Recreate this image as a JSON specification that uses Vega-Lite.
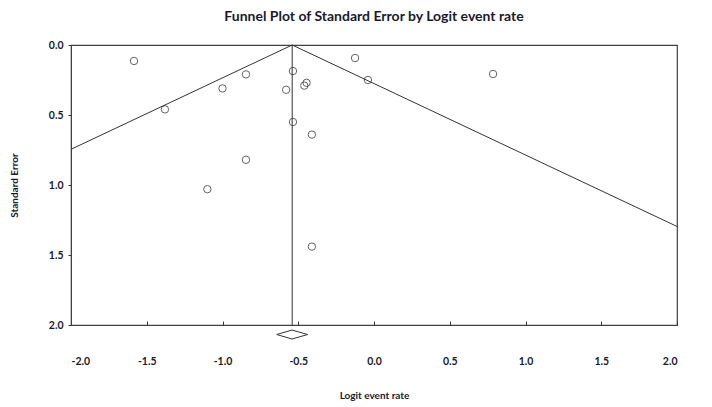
{
  "$schema": "https://vega.github.io/schema/vega-lite/v6.json",
  "width": 606,
  "height": 280,
  "autosize": {"type": "none"},
  "padding": {"left": 71, "top": 45, "right": 35, "bottom": 82},
  "background": "white",
  "config": {
    "view": {"stroke": "#404040", "strokeWidth": 1.2},
    "font": "Lato"
  },
  "title": {
    "text": "Funnel Plot of Standard Error by Logit event rate",
    "font": "Lato",
    "fontSize": 14,
    "fontWeight": "bold",
    "color": "#1a1a2e",
    "anchor": "middle",
    "offset": 16
  },
  "datasets": {
    "studies": [
      {"logit": -1.584, "se": 0.114},
      {"logit": -1.38, "se": 0.46},
      {"logit": -1.0, "se": 0.31},
      {"logit": -0.845, "se": 0.21},
      {"logit": -0.845, "se": 0.82},
      {"logit": -1.10, "se": 1.03},
      {"logit": -0.58, "se": 0.32},
      {"logit": -0.535, "se": 0.186},
      {"logit": -0.46, "se": 0.29},
      {"logit": -0.445, "se": 0.27},
      {"logit": -0.535, "se": 0.55},
      {"logit": -0.41, "se": 0.64},
      {"logit": -0.41, "se": 1.44},
      {"logit": -0.125, "se": 0.093},
      {"logit": -0.04, "se": 0.25},
      {"logit": 0.786, "se": 0.207}
    ],
    "funnel": [
      {"logit": -2.0, "se": 0.745, "o": 1},
      {"logit": -0.54, "se": 0.0, "o": 2},
      {"logit": 2.0, "se": 1.296, "o": 3}
    ],
    "mean": [
      {"logit": -0.54, "se": 0.0},
      {"logit": -0.54, "se": 2.0}
    ],
    "diamond": [
      {"logit": -0.642, "se": 2.068, "o": 1},
      {"logit": -0.541, "se": 2.036, "o": 2},
      {"logit": -0.438, "se": 2.068, "o": 3},
      {"logit": -0.541, "se": 2.1, "o": 4},
      {"logit": -0.642, "se": 2.068, "o": 5}
    ]
  },
  "layer": [
    {
      "data": {"name": "funnel"},
      "mark": {"type": "line", "color": "#333333", "strokeWidth": 1},
      "encoding": {
        "x": {
          "field": "logit", "type": "quantitative",
          "scale": {"domain": [-2, 2], "nice": false, "zero": false},
          "axis": {
            "title": "Logit event rate",
            "titleFont": "Lato", "titleFontSize": 10, "titleFontWeight": "bold", "titleColor": "#1a1a2e",
            "titlePadding": 24,
            "values": [-2, -1.5, -1, -0.5, 0, 0.5, 1, 1.5, 2],
            "labelExpr": "(datum.value < 0 ? '-' : '') + format(abs(datum.value), '.1f')",
            "labelFont": "Lato", "labelFontSize": 10.5, "labelFontWeight": "bold", "labelColor": "#1a1a2e",
            "labelPadding": 35,
            "tickSize": -4, "tickColor": "#333333",
            "domainColor": "#404040", "grid": false
          }
        },
        "y": {
          "field": "se", "type": "quantitative",
          "scale": {"domain": [0, 2], "reverse": true, "nice": false, "zero": false},
          "axis": {
            "title": "Standard Error",
            "titleFont": "Lato", "titleFontSize": 10, "titleFontWeight": "bold", "titleColor": "#1a1a2e",
            "titlePadding": 29,
            "values": [0, 0.5, 1, 1.5, 2],
            "format": ".1f",
            "labelFont": "Lato", "labelFontSize": 10.5, "labelFontWeight": "bold", "labelColor": "#1a1a2e",
            "labelPadding": 5,
            "tickSize": 3, "tickColor": "#333333",
            "domainColor": "#404040", "grid": false
          }
        },
        "order": {"field": "o"}
      }
    },
    {
      "data": {"name": "mean"},
      "mark": {"type": "line", "color": "#333333", "strokeWidth": 1},
      "encoding": {
        "x": {"field": "logit", "type": "quantitative"},
        "y": {"field": "se", "type": "quantitative"}
      }
    },
    {
      "data": {"name": "diamond"},
      "mark": {"type": "line", "color": "#333333", "strokeWidth": 1},
      "encoding": {
        "x": {"field": "logit", "type": "quantitative"},
        "y": {"field": "se", "type": "quantitative"},
        "order": {"field": "o"}
      }
    },
    {
      "data": {"name": "studies"},
      "mark": {"type": "point", "shape": "circle", "filled": false, "color": "#222222", "strokeWidth": 1, "size": 55},
      "encoding": {
        "x": {"field": "logit", "type": "quantitative"},
        "y": {"field": "se", "type": "quantitative"}
      }
    }
  ]
}
